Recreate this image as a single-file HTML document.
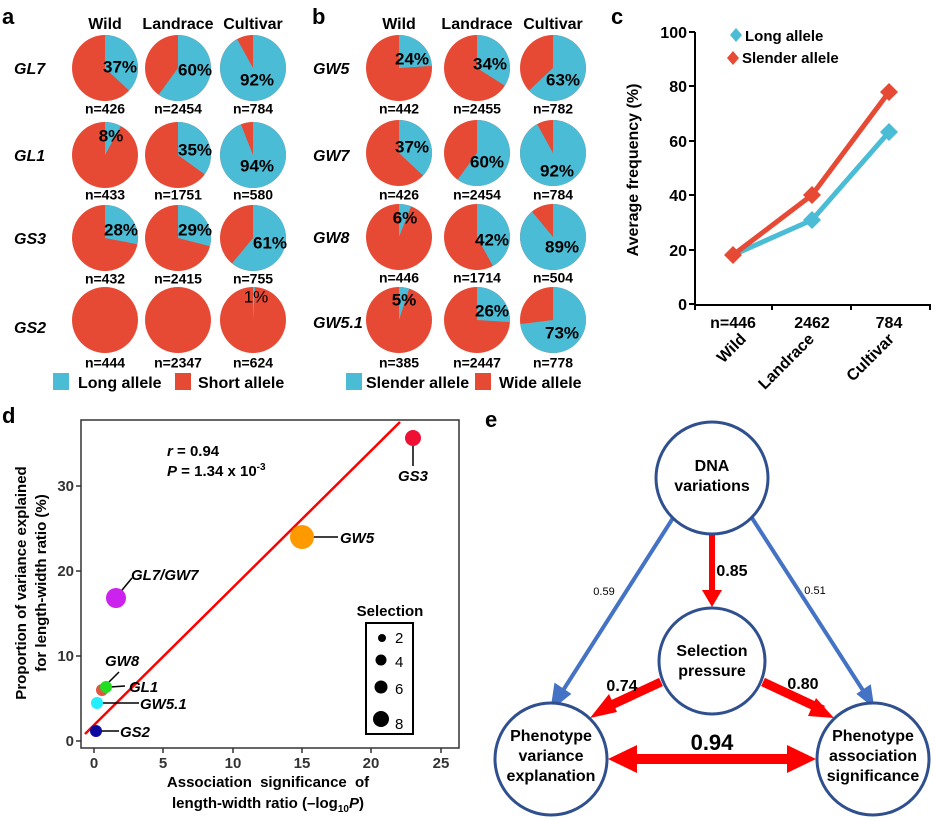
<!DOCTYPE html>
<html><head><meta charset="utf-8"><style>
body{margin:0;background:#fff}
svg{display:block;font-family:"Liberation Sans",Arial,sans-serif}
.b{font-weight:bold}
</style></head><body>
<svg width="935" height="820" viewBox="0 0 935 820">
<defs>
<style>.p{font-size:17px;font-weight:bold;text-anchor:middle;dominant-baseline:middle}.n{font-size:14px;font-weight:bold;text-anchor:middle;dominant-baseline:middle}.h{font-size:16px;font-weight:bold;text-anchor:middle}.r{font-size:16px;font-weight:bold;font-style:italic}</style>
</defs>
<g fill="#000">
<text x="2" y="24" font-size="22" class="b">a</text>
<text x="312" y="24" font-size="22" class="b">b</text>
<text x="611" y="24" font-size="22" class="b">c</text>
<text x="2" y="423" font-size="22" class="b">d</text>
<text x="485" y="427" font-size="22" class="b">e</text>
<text x="105" y="29" class="h">Wild</text><text x="178" y="29" class="h">Landrace</text><text x="253" y="29" class="h">Cultivar</text>
<text x="399" y="29" class="h">Wild</text><text x="477" y="29" class="h">Landrace</text><text x="553" y="29" class="h">Cultivar</text>
<text x="14" y="74" class="r">GL7</text><text x="14" y="161" class="r">GL1</text><text x="14" y="244" class="r">GS3</text><text x="14" y="333" class="r">GS2</text>
<text x="313" y="74" class="r">GW5</text><text x="313" y="161" class="r">GW7</text><text x="313" y="243" class="r">GW8</text><text x="313" y="328" class="r">GW5.1</text>
</g>
<g fill="#e64a35">
<circle cx="105" cy="68" r="33"/><circle cx="178" cy="68" r="33"/><circle cx="253" cy="68" r="33"/>
<circle cx="105" cy="155" r="33"/><circle cx="178" cy="155" r="33"/><circle cx="253" cy="155" r="33"/>
<circle cx="105" cy="238" r="33"/><circle cx="178" cy="238" r="33"/><circle cx="253" cy="238" r="33"/>
<circle cx="105" cy="320" r="33"/><circle cx="178" cy="320" r="33"/><circle cx="253" cy="320" r="33"/>
<circle cx="399" cy="68" r="33"/><circle cx="477" cy="68" r="33"/><circle cx="553" cy="68" r="33"/>
<circle cx="399" cy="153" r="33"/><circle cx="477" cy="153" r="33"/><circle cx="553" cy="153" r="33"/>
<circle cx="399" cy="237" r="33"/><circle cx="477" cy="237" r="33"/><circle cx="553" cy="237" r="33"/>
<circle cx="399" cy="320" r="33"/><circle cx="477" cy="320" r="33"/><circle cx="553" cy="320" r="33"/>
</g>
<g fill="#4bbcd6">
<path d="M105 68 L105 35 A33 33 0 0 1 129.1 90.6Z"/>
<path d="M178 68 L178 35 A33 33 0 1 1 158.6 94.7Z"/>
<path d="M253 68 L253 35 A33 33 0 1 1 237.1 39.1Z"/>
<path d="M105 155 L105 122 A33 33 0 0 1 120.9 126.1Z"/>
<path d="M178 155 L178 122 A33 33 0 0 1 204.7 174.4Z"/>
<path d="M253 155 L253 122 A33 33 0 1 1 240.9 124.3Z"/>
<path d="M105 238 L105 205 A33 33 0 0 1 137.4 244.2Z"/>
<path d="M178 238 L178 205 A33 33 0 0 1 210 246.2Z"/>
<path d="M253 238 L253 205 A33 33 0 1 1 232 263.4Z"/>
<path d="M253 320 L253 287 A33 33 0 0 1 255.1 287.1Z"/>
<path d="M399 68 L399 35 A33 33 0 0 1 431.9 65.9Z"/>
<path d="M477 68 L477 35 A33 33 0 0 1 504.9 85.7Z"/>
<path d="M553 68 L553 35 A33 33 0 1 1 528.9 90.6Z"/>
<path d="M399 153 L399 120 A33 33 0 0 1 423.1 175.6Z"/>
<path d="M477 153 L477 120 A33 33 0 1 1 457.6 179.7Z"/>
<path d="M553 153 L553 120 A33 33 0 1 1 537.1 124.1Z"/>
<path d="M399 237 L399 204 A33 33 0 0 1 411.1 206.3Z"/>
<path d="M477 237 L477 204 A33 33 0 0 1 492.9 265.9Z"/>
<path d="M553 237 L553 204 A33 33 0 1 1 532 211.6Z"/>
<path d="M399 320 L399 287 A33 33 0 0 1 409.2 288.6Z"/>
<path d="M477 320 L477 287 A33 33 0 0 1 509.9 322.1Z"/>
<path d="M553 320 L553 287 A33 33 0 1 1 520.3 324.1Z"/>
</g>
<g fill="#000">
<text x="120" y="68" class="p">37%</text><text x="195" y="71" class="p">60%</text><text x="257" y="81" class="p">92%</text>
<text x="111" y="137" class="p">8%</text><text x="195" y="151" class="p">35%</text><text x="257" y="167" class="p">94%</text>
<text x="121" y="231" class="p">28%</text><text x="195" y="231" class="p">29%</text><text x="270" y="244" class="p">61%</text>
<text x="256" y="298" class="p" style="font-weight:normal">1%</text>
<text x="412" y="60" class="p">24%</text><text x="490" y="65" class="p">34%</text><text x="563" y="81" class="p">63%</text>
<text x="412" y="148" class="p">37%</text><text x="487" y="163" class="p">60%</text><text x="557" y="172" class="p">92%</text>
<text x="405" y="219" class="p">6%</text><text x="492" y="241" class="p">42%</text><text x="562" y="248" class="p">89%</text>
<text x="404" y="301" class="p">5%</text><text x="492" y="312" class="p">26%</text><text x="562" y="334" class="p">73%</text>
<text x="105" y="110" class="n">n=426</text><text x="178" y="110" class="n">n=2454</text><text x="253" y="110" class="n">n=784</text>
<text x="105" y="196" class="n">n=433</text><text x="178" y="196" class="n">n=1751</text><text x="253" y="196" class="n">n=580</text>
<text x="105" y="280" class="n">n=432</text><text x="178" y="280" class="n">n=2415</text><text x="253" y="280" class="n">n=755</text>
<text x="105" y="364" class="n">n=444</text><text x="178" y="364" class="n">n=2347</text><text x="253" y="364" class="n">n=624</text>
<text x="399" y="110" class="n">n=442</text><text x="477" y="110" class="n">n=2455</text><text x="553" y="110" class="n">n=782</text>
<text x="399" y="196" class="n">n=426</text><text x="477" y="196" class="n">n=2454</text><text x="553" y="196" class="n">n=784</text>
<text x="399" y="279" class="n">n=446</text><text x="477" y="279" class="n">n=1714</text><text x="553" y="279" class="n">n=504</text>
<text x="399" y="364" class="n">n=385</text><text x="477" y="364" class="n">n=2447</text><text x="553" y="364" class="n">n=778</text>
</g>
<rect x="53" y="373" width="16" height="17" fill="#4bbcd6"/><text x="78" y="388" font-size="16" class="b">Long allele</text>
<rect x="175" y="373" width="16" height="17" fill="#e64a35"/><text x="198" y="388" font-size="16" class="b">Short allele</text>
<rect x="346" y="373" width="16" height="17" fill="#4bbcd6"/><text x="366" y="388" font-size="16" class="b">Slender allele</text>
<rect x="475" y="373" width="16" height="17" fill="#e64a35"/><text x="499" y="388" font-size="16" class="b">Wide allele</text>

<!-- panel c -->
<g stroke="#000" stroke-width="2" fill="none">
<path d="M695 32 V305 H930"/>
<path d="M689 32H695M689 86H695M689 141H695M689 195H695M689 250H695M689 304H695"/>
<path d="M695 304V310M772 304V310M851 304V310M930 304V310"/>
</g>
<g font-size="16" class="b" text-anchor="end">
<text x="687" y="38">100</text><text x="687" y="92">80</text><text x="687" y="147">60</text><text x="687" y="201">40</text><text x="687" y="256">20</text><text x="687" y="310">0</text>
</g>
<text transform="translate(638,170) rotate(-90)" font-size="16" class="b" text-anchor="middle">Average frequency (%)</text>
<polyline points="733,255 812,220 889,132" stroke="#4bbcd6" stroke-width="5" fill="none"/>
<polyline points="733,255 812,195 889,92" stroke="#e64a35" stroke-width="5" fill="none"/>
<g fill="#4bbcd6"><path d="M812 211 L821 220 L812 229 L803 220Z"/><path d="M889 123 L898 132 L889 141 L880 132Z"/></g>
<g fill="#e64a35"><path d="M733 246 L742 255 L733 264 L724 255Z"/><path d="M812 186 L821 195 L812 204 L803 195Z"/><path d="M889 83 L898 92 L889 101 L880 92Z"/></g>
<path d="M736 28 L742 35 L736 42 L730 35Z" fill="#4bbcd6"/><text x="745" y="41" font-size="15" class="b">Long allele</text>
<path d="M733 51 L739 58 L733 65 L727 58Z" fill="#e64a35"/><text x="742" y="63" font-size="15" class="b">Slender allele</text>
<g font-size="16" class="b" text-anchor="middle"><text x="733" y="328">n=446</text><text x="812" y="328">2462</text><text x="889" y="328">784</text></g>
<g font-size="16" class="b" text-anchor="end">
<text transform="translate(747,340) rotate(-45)">Wild</text>
<text transform="translate(815,340) rotate(-45)">Landrace</text>
<text transform="translate(895,340) rotate(-45)">Cultivar</text>
</g>

<!-- panel d -->
<rect x="81" y="420" width="378" height="328" fill="none" stroke="#333" stroke-width="1.5"/>
<g stroke="#333" stroke-width="1.5">
<path d="M76 741H81M76 656H81M76 571H81M76 486H81"/>
<path d="M94 748V753M163 748V753M233 748V753M302 748V753M371 748V753M441 748V753"/>
</g>
<g font-size="15" class="b" text-anchor="end" fill="#333">
<text x="74" y="746">0</text><text x="74" y="661">10</text><text x="74" y="576">20</text><text x="74" y="491">30</text></g>
<g font-size="15" class="b" text-anchor="middle" fill="#333">
<text x="94" y="768">0</text><text x="163" y="768">5</text><text x="233" y="768">10</text><text x="302" y="768">15</text><text x="371" y="768">20</text><text x="441" y="768">25</text></g>
<text x="268" y="787" font-size="15" class="b" text-anchor="middle" word-spacing="4">Association significance of</text>
<text x="268" y="808" font-size="15" class="b" text-anchor="middle">length-width ratio (–log<tspan font-size="10" dy="4">10</tspan><tspan dy="-4" font-style="italic">P</tspan>)</text>
<text transform="translate(26,583) rotate(-90)" font-size="15" class="b" text-anchor="middle">Proportion of variance explained</text>
<text transform="translate(46,583) rotate(-90)" font-size="15" class="b" text-anchor="middle">for length-width ratio (%)</text>
<line x1="85" y1="734" x2="400" y2="422" stroke="#f00" stroke-width="2.5"/>
<text x="167" y="456" font-size="15" class="b"><tspan font-style="italic">r</tspan> = 0.94</text>
<text x="167" y="476" font-size="15" class="b"><tspan font-style="italic">P</tspan> = 1.34 x 10<tspan font-size="10" dy="-6">-3</tspan></text>
<g stroke="#000" stroke-width="1.5">
<line x1="413" y1="438" x2="413" y2="466"/><line x1="307" y1="537" x2="338" y2="537"/>
<line x1="118" y1="595" x2="132" y2="578"/><line x1="108" y1="683" x2="119" y2="672"/>
<line x1="110" y1="687" x2="125" y2="686"/><line x1="100" y1="703" x2="139" y2="703"/><line x1="100" y1="731" x2="119" y2="731"/>
</g>
<circle cx="413" cy="438" r="8" fill="#ee1133"/>
<circle cx="302" cy="537" r="12" fill="#ff9900"/>
<circle cx="116" cy="598" r="10" fill="#cc22ee"/>
<circle cx="102" cy="690" r="6" fill="#dd5544"/>
<circle cx="106" cy="687" r="6" fill="#22dd22"/>
<circle cx="97" cy="703" r="6" fill="#22eeff"/>
<circle cx="96" cy="731" r="6" fill="#0a0aa0"/>
<g font-size="15" class="b" font-style="italic">
<text x="398" y="481">GS3</text><text x="340" y="543">GW5</text><text x="131" y="580">GL7/GW7</text>
<text x="105" y="666">GW8</text><text x="129" y="692">GL1</text><text x="140" y="709">GW5.1</text><text x="120" y="737">GS2</text></g>
<text x="390" y="616" font-size="15" class="b" text-anchor="middle">Selection</text>
<rect x="366" y="623" width="47" height="111" fill="none" stroke="#000" stroke-width="2"/>
<circle cx="382" cy="638" r="4" fill="#000"/><circle cx="381" cy="660" r="5.5" fill="#000"/><circle cx="381" cy="687" r="6.5" fill="#000"/><circle cx="381" cy="719" r="8" fill="#000"/>
<g font-size="15" fill="#000"><text x="395" y="643">2</text><text x="395" y="667">4</text><text x="395" y="694">6</text><text x="395" y="729">8</text></g>

<!-- panel e -->
<g stroke="#4472c4" stroke-width="4" fill="#4472c4">
<line x1="673" y1="518" x2="562" y2="692"/>
<path d="M553 706 L556 686 L568 694Z"/>
<line x1="752" y1="518" x2="864" y2="692"/>
<path d="M873 706 L858 694 L870 686Z" stroke-width="2"/>
</g>
<g fill="#f00" stroke="#f00">
<line x1="712" y1="534" x2="712" y2="593" stroke-width="6"/>
<path d="M702 590 L722 590 L712 607Z" stroke="none"/>
<line x1="661" y1="682" x2="605" y2="708" stroke-width="9"/>
<path d="M590 718 L609 694 L617 712Z" stroke="none"/>
<line x1="763" y1="682" x2="823" y2="710" stroke-width="9"/>
<path d="M834 718 L808 716 L816 698Z" stroke="none"/>
<line x1="630" y1="759" x2="795" y2="759" stroke-width="10"/>
<path d="M608 759 L637 745 L637 773Z" stroke="none"/>
<path d="M816 759 L787 745 L787 773Z" stroke="none"/>
</g>
<g fill="#fff" stroke="#2f4f8f" stroke-width="3">
<circle cx="712" cy="478" r="56"/><circle cx="712" cy="661" r="53"/>
<circle cx="551" cy="759" r="56"/><circle cx="873" cy="759" r="56"/>
</g>
<g font-size="16" class="b" text-anchor="middle">
<text x="712" y="471">DNA</text><text x="712" y="491">variations</text>
<text x="712" y="656">Selection</text><text x="712" y="676">pressure</text>
<text x="551" y="741">Phenotype</text><text x="551" y="761">variance</text><text x="551" y="781">explanation</text>
<text x="873" y="741">Phenotype</text><text x="873" y="761">association</text><text x="873" y="781">significance</text>
<text x="732" y="576">0.85</text><text x="622" y="691">0.74</text><text x="803" y="689">0.80</text>
<text x="712" y="750" font-size="22">0.94</text>
</g>
<text x="604" y="595" font-size="11" text-anchor="middle">0.59</text>
<text x="815" y="594" font-size="11" text-anchor="middle">0.51</text>
</svg>
</body></html>
